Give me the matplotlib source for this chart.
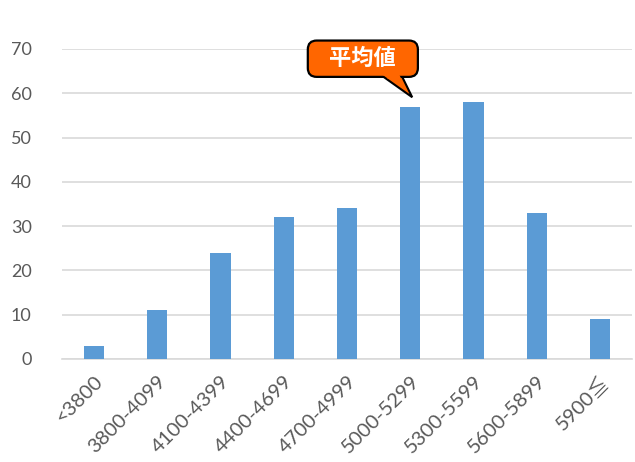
import numpy as np
import matplotlib.pyplot as plt
from matplotlib.patches import Polygon

plt.rcParams['font.family'] = ['Lato', 'Noto Sans CJK JP', 'DejaVu Sans']

# データ
categories = ['<3800', '3800-4099', '4100-4399', '4400-4699', '4700-4999',
              '5000-5299', '5300-5599', '5600-5899', '5900≦']
counts = [3, 11, 24, 32, 34, 57, 58, 33, 9]
yticks = [0, 10, 20, 30, 40, 50, 60, 70]

fig = plt.figure(figsize=(6.35, 4.62), dpi=100)
ax = fig.add_axes([0.098, 0.223, 0.897, 0.671])

x = np.arange(len(categories))
ax.bar(x, counts, width=0.32, color='#5B9BD5', zorder=3)

ax.set_xlim(-0.5, len(categories) - 0.5)
ax.set_ylim(0, 70)
ax.set_yticks(yticks)
ax.grid(axis='y', color='#D9D9D9', linewidth=1.2, zorder=0)
for s in ['top', 'right', 'left']:
    ax.spines[s].set_visible(False)
ax.spines['bottom'].set_color('#D9D9D9')
ax.spines['bottom'].set_linewidth(1.2)
ax.tick_params(axis='both', length=0, colors='#595959', labelsize=13)
ax.tick_params(axis='y', pad=22)
ax.tick_params(axis='x', pad=10)
ax.set_xticks(x)
ax.set_xticklabels(categories, rotation=45, ha='right', rotation_mode='anchor', fontsize=14.5)

# 吹き出し (box + tail)
orange = '#FF6600'
ax.text(4.25, 67.8, '   平均値   ', ha='center', va='center', fontsize=16,
        fontweight='bold', color='white', family=['Noto Sans CJK JP', 'DejaVu Sans'],
        bbox=dict(boxstyle='round,pad=0.3,rounding_size=0.4', fc=orange, ec='black', lw=1.6),
        zorder=6)
tip = (5.03, 59.1)
bl, br, by = 4.40, 4.81, 65.5
ax.add_patch(Polygon([(bl, by), tip, (br, by)], closed=True, fc=orange, ec='black',
                     lw=1.5, joinstyle='miter', zorder=5, clip_on=False))
# cover the box border where the tail joins
def edge_x(x0, y):
    return x0 + (tip[0] - x0) * (by - y) / (by - tip[1])
y1, y2 = 64.9, 63.3
ax.add_patch(Polygon([(edge_x(bl, y1) + 0.03, y1), (edge_x(br, y1) - 0.03, y1),
                      (edge_x(br, y2) - 0.03, y2), (edge_x(bl, y2) + 0.03, y2)],
                     closed=True, fc=orange, ec='none', zorder=7, clip_on=False))

fig.savefig('out.png', dpi=100)
